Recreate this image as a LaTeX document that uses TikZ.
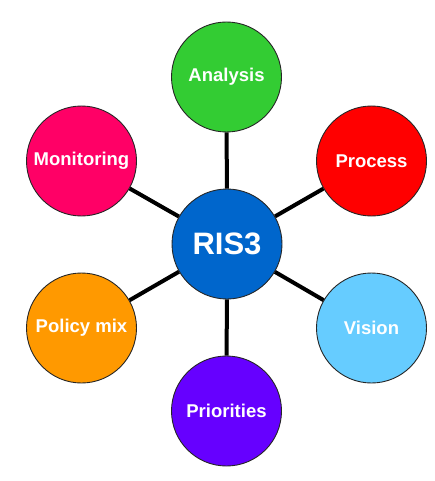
\documentclass[tikz,border=0pt]{standalone}
\usepackage{fontspec}
\setmainfont{Liberation Sans}
\begin{document}
\begin{tikzpicture}[x=1pt,y=-1pt,
  bubble/.style={circle,draw=black!85,line width=0.9pt,minimum size=110pt,inner sep=0pt,
    text=white,font=\fontsize{18.5}{20}\selectfont\bfseries},
  spoke/.style={line width=4pt,draw=black}]
\useasboundingbox (0,0) rectangle (434,481);
\node[bubble,fill={rgb,255:red,0;green,102;blue,204},font=\fontsize{31}{34}\selectfont\bfseries] (c) at (227,244) {RIS3};
\node[bubble,fill={rgb,255:red,51;green,204;blue,51}] (an) at (226.5,77) {Analysis};
\node[bubble,fill={rgb,255:red,255;green,0;blue,0}] (pr) at (371.5,161) {Process};
\node[bubble,fill={rgb,255:red,102;green,204;blue,255}] (vi) at (371.5,328) {Vision};
\node[bubble,fill={rgb,255:red,102;green,0;blue,255}] (pi) at (226.5,411) {Priorities};
\node[bubble,fill={rgb,255:red,255;green,153;blue,0}] (pm) at (81.5,328) {Policy mix};
\node[bubble,fill={rgb,255:red,255;green,0;blue,102}] (mo) at (81.5,161) {Monitoring};
\foreach \n in {an,pr,vi,pi,pm,mo} \draw[spoke] (c) -- (\n);
\end{tikzpicture}
\end{document}
